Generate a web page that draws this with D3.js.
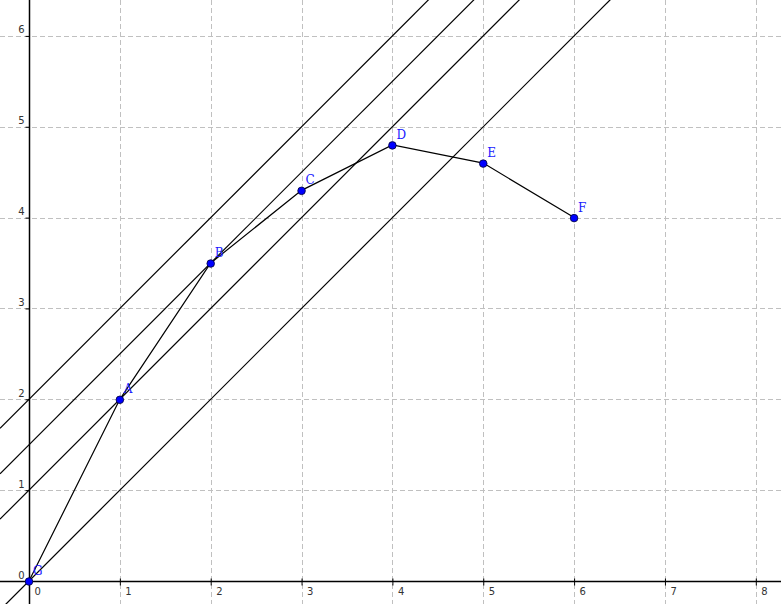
<!DOCTYPE html>
<html>
<head>
<meta charset="utf-8">
<script src="https://cdn.jsdelivr.net/npm/d3@7"></script>
<style>
  html, body { margin: 0; padding: 0; background: #fff; }
  svg { display: block; }
</style>
</head>
<body>
<div id="graph"></div>
<script>
// Data
const pointNames = ["G", "A", "B", "C", "D", "E", "F"];
const pointX = [0, 1, 2, 3, 4, 5, 6];
const pointY = [0, 2, 3.5, 4.3, 4.8, 4.6, 4];
// lines y = x + b
const lineSlopes = [1, 1, 1, 1];
const lineIntercepts = [0, 1, 1.5, 2];
const xTicks = [0, 1, 2, 3, 4, 5, 6, 7, 8];
const yTicks = [0, 1, 2, 3, 4, 5, 6];

// Graph constants
const w = 781;
const h = 604;
const unit = 90.85;
const ox = 29;
const oy = 581;

const svg = d3.select("#graph")
              .append("svg")
              .attr("width", w)
              .attr("height", h);

// scales
const xScale = d3.scaleLinear()
                 .domain([-ox / unit, (w - ox) / unit])
                 .range([0, w]);
const yScale = d3.scaleLinear()
                 .domain([-(h - oy) / unit, oy / unit])
                 .range([h, 0]);

// grid
const grid = svg.append("g")
                .attr("stroke", "#c0c0c0")
                .attr("stroke-width", 1)
                .attr("stroke-dasharray", "5,3");
grid.selectAll("line.vx")
    .data(xTicks.filter(d => d !== 0))
    .enter()
    .append("line")
    .attr("x1", d => Math.round(xScale(d)) + 0.5)
    .attr("x2", d => Math.round(xScale(d)) + 0.5)
    .attr("y1", 0)
    .attr("y2", h);
grid.selectAll("line.hy")
    .data(yTicks.filter(d => d !== 0))
    .enter()
    .append("line")
    .attr("y1", d => Math.round(yScale(d)) + 0.5)
    .attr("y2", d => Math.round(yScale(d)) + 0.5)
    .attr("x1", 0)
    .attr("x2", w);

// axes
const xAxis = d3.axisBottom(xScale)
                .tickValues(xTicks)
                .tickSize(4)
                .tickSizeOuter(0)
                .tickFormat(d3.format("d"));
const yAxis = d3.axisLeft(yScale)
                .tickValues(yTicks)
                .tickSize(4)
                .tickSizeOuter(0)
                .tickFormat(d3.format("d"));

const gx = svg.append("g")
              .attr("transform", "translate(0," + (Math.round(yScale(0)) + 0.5) + ")")
              .call(xAxis);
gx.select(".domain").attr("stroke", "#000").attr("stroke-width", 1.5);
gx.selectAll(".tick line").attr("stroke", "#000").attr("y1", -3);
gx.selectAll(".tick text")
  .attr("font-family", "DejaVu Sans, sans-serif")
  .attr("font-size", 10)
  .attr("fill", "#333")
  .attr("text-anchor", "start")
  .attr("x", 5)
  .attr("y", 6);

const gy = svg.append("g")
              .attr("transform", "translate(" + (Math.round(xScale(0)) + 0.5) + ",0)")
              .call(yAxis);
gy.select(".domain").attr("stroke", "#000").attr("stroke-width", 1.5);
gy.selectAll(".tick line").attr("stroke", "#000");
gy.selectAll(".tick text")
  .attr("font-family", "DejaVu Sans, sans-serif")
  .attr("font-size", 10)
  .attr("fill", "#333")
  .attr("x", -5)
  .attr("dy", "-0.3em");

// axis domain lines spanning the whole view
gx.select(".domain").attr("d", "M0,0H" + w);
gy.select(".domain").attr("d", "M0,0V" + h);

// slope lines
const xd = xScale.domain();
svg.selectAll("line.slope")
   .data(lineIntercepts)
   .enter()
   .append("line")
   .attr("class", "slope")
   .attr("x1", xScale(xd[0]))
   .attr("y1", (d, i) => yScale(lineSlopes[i] * xd[0] + d))
   .attr("x2", xScale(xd[1]))
   .attr("y2", (d, i) => yScale(lineSlopes[i] * xd[1] + d))
   .attr("stroke", "#000")
   .attr("stroke-width", 1.2);

// polyline through the points
const pts = pointX.map((x, i) => [x, pointY[i]]);
svg.append("path")
   .datum(pts)
   .attr("d", d3.line().x(d => xScale(d[0])).y(d => yScale(d[1])))
   .attr("fill", "none")
   .attr("stroke", "#000")
   .attr("stroke-width", 1.2);

// points
svg.selectAll("circle")
   .data(pts)
   .enter()
   .append("circle")
   .attr("cx", d => xScale(d[0]))
   .attr("cy", d => yScale(d[1]) + 0.5)
   .attr("r", 3.8)
   .attr("fill", "#0000ff")
   .attr("stroke", "#000033")
   .attr("stroke-width", 0.8);

// labels
svg.selectAll("text.pname")
   .data(pts)
   .enter()
   .append("text")
   .attr("class", "pname")
   .text((d, i) => pointNames[i])
   .attr("x", d => xScale(d[0]) + 4)
   .attr("y", d => yScale(d[1]) - 6)
   .attr("font-family", "DejaVu Serif, serif")
   .attr("font-size", 12)
   .attr("fill", "#1a1aff");
</script>
</body>
</html>
